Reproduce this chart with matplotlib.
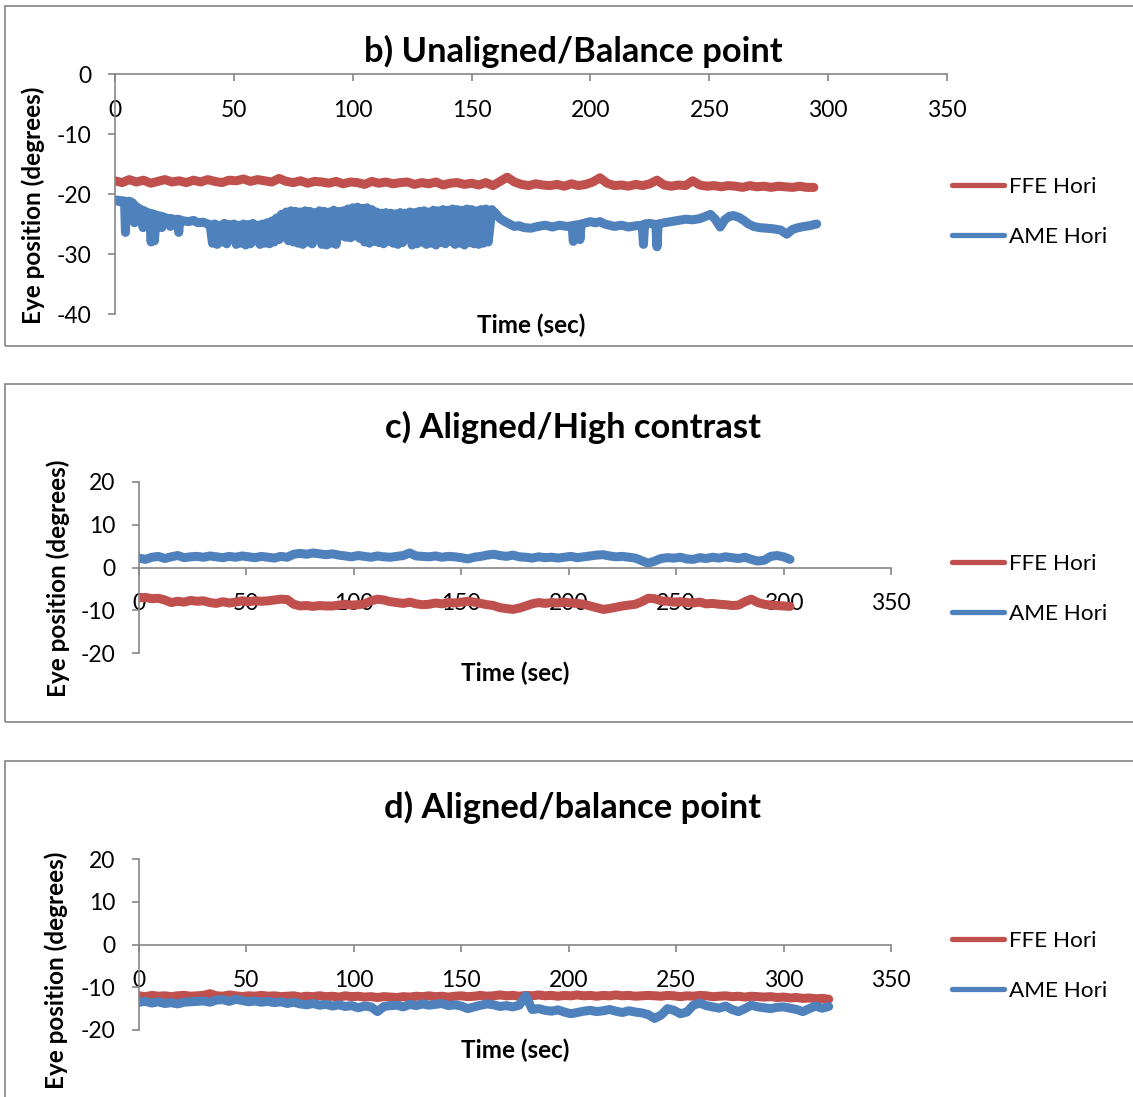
import numpy as np
import matplotlib
matplotlib.use("Agg")
import matplotlib.pyplot as plt
from matplotlib.lines import Line2D
from matplotlib.patches import Rectangle

plt.rcParams['font.family'] = ['Lato', 'DejaVu Sans']
plt.rcParams['axes.unicode_minus'] = False

# ---------------- data ----------------
series_labels = ["FFE Hori", "AME Hori"]
x_ticks = [0, 50, 100, 150, 200, 250, 300, 350]

# panel b) Unaligned/Balance point
ffe_b_t = np.arange(0, 295, 3)
ffe_b = [-17.8, -18.1, -17.6, -18.0, -17.7, -18.2, -17.9, -17.6, -18.0, -17.8, -18.1,
         -17.7, -18.0, -17.6, -17.9, -18.1, -17.7, -17.8, -17.5, -17.9, -17.6,
         -17.8, -18.0, -17.4, -17.9, -18.1, -17.8, -18.2, -17.9, -18.0, -18.2,
         -17.9, -18.3, -18.0, -18.1, -18.4, -17.9, -18.2, -18.0, -18.3, -18.1,
         -18.0, -18.4, -18.1, -18.3, -18.0, -18.5, -18.2, -18.1, -18.4, -18.2,
         -18.5, -18.1, -18.6, -17.9, -17.2, -18.0, -18.4, -18.6, -18.3, -18.5,
         -18.6, -18.4, -18.7, -18.3, -18.6, -18.4, -18.0, -17.3, -18.2, -18.6,
         -18.5, -18.7, -18.4, -18.6, -18.3, -17.7, -18.5, -18.7, -18.5, -18.6,
         -17.8, -18.5, -18.7, -18.6, -18.8, -18.6, -18.7, -18.9, -18.6, -18.8,
         -18.7, -18.9, -18.7, -18.8, -18.9, -18.7, -18.9, -18.9]

ame_b_head_t = [0, 1, 2, 3, 4.0, 4.4, 4.8, 6, 7.5, 8.2, 8.7, 9.5, 11, 11.8, 12.3, 13,
                14.5, 15.2, 15.9, 16.6, 17.3, 18, 19.2, 19.7, 20.2, 21.5, 22.8, 23.3,
                23.8, 25, 26.3, 26.8, 27.3, 29, 31, 33, 35, 37, 39]
ame_b_head = [-21.2, -21.0, -21.3, -21.1, -21.2, -26.4, -21.4, -21.2, -21.5, -24.8,
              -22.0, -22.3, -22.6, -25.6, -22.8, -23.0, -23.2, -28.0, -23.3, -27.8,
              -23.5, -23.6, -23.7, -25.6, -23.8, -24.0, -24.1, -25.4, -24.1, -24.3,
              -24.2, -26.4, -24.3, -24.5, -24.6, -24.4, -24.8, -24.7, -25.0]
# fast oscillation band (40-157 s): upper and lower turning points
ame_b_band_top_t = np.arange(40, 157, 2)
ame_b_band_top = [-25.1, -25.0, -25.2, -24.9, -25.1, -25.0, -25.2, -25.0, -25.1, -24.9,
                  -25.2, -25.0, -24.8,
                  -24.5, -24.0, -23.4, -23.0, -22.8,
                  -22.9, -23.0, -22.8, -22.9, -23.1, -22.8, -22.9, -23.0, -22.7, -22.9, -22.8,
                  -22.5, -22.3, -22.2, -22.4, -22.3, -22.6, -23.0, -23.2, -23.1, -23.2,
                  -23.3, -23.1, -23.2, -23.0, -23.1, -22.9, -22.8, -23.0, -22.7, -22.8,
                  -22.6, -22.7, -22.5, -22.6, -22.7, -22.5, -22.6, -22.8, -22.6, -22.5]
ame_b_band_bot_t = np.arange(41, 158, 2)
ame_b_band_bot = [-28.2, -28.4, -28.0, -28.3, -27.6, -28.4, -28.2, -28.5, -28.3, -27.8,
                  -28.4, -28.2, -28.3,
                  -28.0, -27.6, -27.2, -27.8, -28.0,
                  -28.2, -28.4, -28.0, -28.3, -25.0, -28.4, -28.5, -28.2, -28.4, -27.0, -27.2,
                  -27.3, -27.0, -27.4, -28.0, -28.2, -27.9, -28.1, -28.3, -27.9, -28.2,
                  -28.4, -28.1, -27.2, -28.5, -28.3, -28.0, -28.4, -28.2, -28.5, -28.1,
                  -28.3, -27.9, -28.4, -28.2, -28.5, -28.1, -28.3, -28.4, -28.2, -28.0]
ame_b_tail_t = [158.5, 160, 162, 164, 166, 168, 170, 172, 175, 178, 181, 184, 187, 190,
                192.3, 192.8, 193.3, 195.1, 195.6, 196.1, 198, 200, 202, 204, 206, 208, 210,
                213, 216, 219, 221.8, 222.3, 222.8, 225, 227.5, 228, 228.5, 231, 234, 237,
                240, 243, 246, 248, 250.5, 252.5, 254.6, 256.5, 258.5, 260.2, 262.5, 264.5,
                266.5, 268.6, 271, 274, 277, 280, 282.6, 285, 287.5, 290, 292, 294, 295.2]
ame_b_tail = [-22.6, -23.2, -24.1, -24.6, -25.0, -25.4, -25.3, -25.6, -25.7, -25.4,
              -25.2, -25.5, -25.2, -25.4, -25.3, -27.9, -25.2, -25.1, -27.6, -25.0,
              -24.8, -24.6, -24.8, -24.6, -25.0, -25.2, -25.4, -25.2, -25.5, -25.3,
              -25.2, -28.4, -25.0, -24.9, -25.1, -28.8, -25.0, -24.8, -24.6, -24.4,
              -24.2, -24.3, -24.1, -23.8, -23.4, -24.2, -25.5, -24.3, -23.7, -23.6,
              -23.9, -24.4, -25.0, -25.4, -25.6, -25.7, -25.8, -26.0, -26.7, -25.9,
              -25.6, -25.4, -25.3, -25.1, -25.0]

# panel c) Aligned/High contrast
c_t = np.arange(0, 304, 3)
ffe_c = [-7.1, -7.0, -7.3, -7.2, -7.6, -8.2, -7.9, -8.1, -7.7, -7.9,
         -7.8, -8.2, -8.4, -8.0, -8.3, -8.1, -7.8, -8.0, -7.8, -7.9,
         -7.8, -7.6, -7.4, -7.5, -8.6, -9.0, -8.9, -9.1, -8.9, -9.0,
         -9.0, -8.8, -8.6, -8.8, -8.7, -8.5, -7.8, -7.4, -7.6, -8.0,
         -8.2, -8.4, -8.1, -8.5, -8.7, -8.6, -8.3, -8.5, -8.2, -8.3,
         -8.1, -7.9, -8.1, -8.4, -8.7, -8.9, -9.4, -9.6, -9.8, -9.5,
         -9.0, -8.5, -8.2, -8.4, -8.2, -8.3, -8.1, -8.3, -8.4, -8.6,
         -9.0, -9.4, -9.8, -9.6, -9.3, -9.0, -8.8, -8.6, -8.0, -7.2,
         -7.3, -7.8, -7.9, -8.1, -8.0, -8.2, -8.3, -8.1, -8.5, -8.4,
         -8.6, -8.7, -8.9, -8.8, -8.0, -7.4, -8.2, -8.6, -8.8, -8.9,
         -9.0, -9.1]
ame_c = [2.2, 1.9, 2.4, 2.6, 2.1, 2.5, 2.8, 2.3, 2.5, 2.6,
         2.4, 2.7, 2.5, 2.3, 2.6, 2.4, 2.7, 2.5, 2.3, 2.6,
         2.4, 2.2, 2.6, 2.4, 3.1, 3.3, 3.1, 3.4, 3.2, 3.0,
         3.2, 2.9, 2.7, 2.5, 2.8, 2.6, 2.4, 2.7, 2.5, 2.4,
         2.6, 2.8, 3.4, 2.7, 2.6, 2.5, 2.7, 2.4, 2.6, 2.5,
         2.3, 2.0, 2.4, 2.6, 2.9, 3.1, 2.8, 2.6, 2.9, 2.5,
         2.4, 2.2, 2.5, 2.3, 2.4, 2.2, 2.4, 2.6, 2.3, 2.5,
         2.7, 2.9, 3.0, 2.7, 2.5, 2.6, 2.4, 2.2, 1.6, 1.0,
         1.5, 2.1, 2.3, 2.2, 2.4, 2.0, 1.9, 2.3, 2.1, 2.4,
         2.2, 2.5, 2.3, 2.1, 2.4, 1.9, 1.5, 1.7, 2.6, 2.8,
         2.5, 1.9]

# panel d) Aligned/balance point
d_t = np.arange(0, 322, 3)
ffe_d = [-12.0, -12.2, -11.9, -12.1, -12.0, -12.2, -12.0, -11.9, -12.1, -12.0,
         -11.9, -11.5, -12.0, -12.1, -11.8, -12.0, -12.2, -12.0, -12.1, -11.9,
         -12.1, -12.0, -12.2, -12.1, -12.0, -12.3, -12.1, -12.2, -12.0, -12.2,
         -12.1, -12.3, -12.0, -12.2, -12.1, -12.3, -12.2, -12.4, -12.2, -12.3,
         -12.4, -12.2, -12.3, -12.1, -12.2, -12.0, -12.2, -12.1, -12.3, -12.1,
         -12.0, -12.2, -12.1, -11.9, -12.1, -12.0, -11.8, -12.0, -11.9, -12.1,
         -11.9, -12.0, -11.8, -12.0, -11.9, -12.1, -11.9, -12.0, -11.8, -12.0,
         -11.9, -12.1, -11.9, -12.0, -11.8, -12.0, -11.9, -12.1, -12.0, -11.9,
         -12.0, -12.1, -11.9, -12.0, -12.2, -12.0, -12.1, -11.9, -12.0, -12.2,
         -12.1, -12.0, -12.2, -12.1, -12.3, -12.1, -12.2, -12.3, -12.2, -12.4,
         -12.3, -12.5, -12.4, -12.6, -12.5, -12.7, -12.6, -12.8]
ame_d = [-13.5, -13.3, -13.7, -13.4, -13.8, -13.6, -13.9, -13.5, -13.4, -13.3,
         -13.2, -13.5, -13.0, -12.9, -13.3, -12.8, -13.1, -13.4, -13.2, -13.5,
         -13.3, -13.6, -13.4, -13.8, -13.5, -13.9, -14.1, -13.8, -14.2, -14.0,
         -14.4, -14.1, -14.5, -14.3, -14.8, -14.4, -14.6, -15.7, -14.5, -14.3,
         -14.2, -14.6, -14.0, -14.3, -13.9, -14.2, -14.0, -13.8, -14.3, -14.1,
         -14.4, -15.0, -14.6, -14.2, -13.9, -14.1, -14.5, -14.3, -14.6, -14.2,
         -12.0, -15.2, -15.0, -15.4, -15.6, -15.3, -15.8, -16.2, -15.9, -15.6,
         -15.4, -15.7, -15.5, -15.2, -15.6, -15.9, -15.5, -15.8, -16.0, -16.4,
         -17.3, -16.5, -15.0, -15.4, -16.2, -15.8, -14.2, -13.7, -14.3, -14.6,
         -14.9, -14.4, -15.2, -15.7, -15.0, -14.2, -14.6, -14.8, -15.0, -14.7,
         -14.6, -14.9, -15.2, -15.7, -15.0, -14.4, -14.9, -14.5]

# ---------------- assemble the AME b) trace ----------------
band_t = np.ravel(np.column_stack([ame_b_band_top_t, ame_b_band_bot_t]))
band_v = np.ravel(np.column_stack([ame_b_band_top, ame_b_band_bot]))
ame_b_t = np.concatenate([ame_b_head_t, band_t, ame_b_tail_t])
ame_b = np.concatenate([ame_b_head, band_v, ame_b_tail])

# ---------------- figure ----------------
W, H = 1133, 1097
RED = '#C0504D'
BLUE = '#4F81BD'
GRAY = '#868686'
TICK_FS = 16.5
LEG_FS = 16.2
LAB_FS = 17.5
TITLE_FS = 24.8

fig = plt.figure(figsize=(W / 100, H / 100), dpi=100)


def fx(px):
    return px / W


def fy(py):
    return 1 - py / H


# chart-area frames
for top, bot in [(6, 346), (384, 722), (761, 1115)]:
    fig.patches.append(Rectangle((fx(5), fy(bot)), fx(1150 - 5), (bot - top) / H,
                                 transform=fig.transFigure, fill=False,
                                 ec='#8C8C8C', lw=1.3, zorder=0))

panels = [
    dict(title="b) Unaligned/Balance point", rect=(115, 74, 947, 314), ylim=(-40, 0),
         yticks=[0, -10, -20, -30, -40], ffe=(ffe_b_t, ffe_b), ame=(ame_b_t, ame_b),
         title_y=62, xlab_y=333, ylab=(33, 205), leg_y=212),
    dict(title="c) Aligned/High contrast", rect=(139, 482, 891, 653), ylim=(-20, 20),
         yticks=[20, 10, 0, -10, -20], ffe=(c_t, ffe_c), ame=(c_t, ame_c),
         title_y=438, xlab_y=681, ylab=(58, 578), leg_y=589),
    dict(title="d) Aligned/balance point", rect=(139, 859, 891, 1030), ylim=(-20, 20),
         yticks=[20, 10, 0, -10, -20], ffe=(d_t, ffe_d), ame=(d_t, ame_d),
         title_y=818, xlab_y=1058, ylab=(56, 970), leg_y=966),
]

for p in panels:
    x0, y0, x1, y1 = p['rect']
    ax = fig.add_axes([fx(x0), fy(y1), (x1 - x0) / W, (y1 - y0) / H])
    ax.set_facecolor('none')
    ax.set_xlim(0, 350)
    ax.set_ylim(*p['ylim'])
    ax.set_xticks(x_ticks)
    ax.set_yticks(p['yticks'])
    for s in ['top', 'right']:
        ax.spines[s].set_visible(False)
    ax.spines['bottom'].set_position(('data', 0))
    for s in ['bottom', 'left']:
        ax.spines[s].set_color(GRAY)
        ax.spines[s].set_linewidth(1.2)
    ax.tick_params(axis='x', direction='out', length=5, width=1.2, color=GRAY,
                   pad=13.5, labelsize=TICK_FS)
    ax.tick_params(axis='y', direction='out', length=5, width=1.2, color=GRAY,
                   pad=12, labelsize=TICK_FS)

    ax.plot(*p['ffe'], color=RED, lw=6.5, solid_joinstyle='round',
            solid_capstyle='round')
    ax.plot(*p['ame'], color=BLUE, lw=6.5, solid_joinstyle='round',
            solid_capstyle='round')

    ax.set_xlabel("Time (sec)", fontsize=LAB_FS, fontweight='bold', va='baseline')
    ax.xaxis.set_label_coords((x0 + x1) / 2 / W, fy(p['xlab_y']), transform=fig.transFigure)
    ax.set_ylabel("Eye position (degrees)", fontsize=LAB_FS, fontweight='bold',
                  va='center', ha='center')
    ax.yaxis.set_label_coords(fx(p['ylab'][0]), fy(p['ylab'][1]), transform=fig.transFigure)

    fig.text(fx(573), fy(p['title_y']), p['title'], ha='center', va='baseline',
             fontsize=TITLE_FS, fontweight='bold')

    handles = [Line2D([], [], color=RED, lw=3.8, solid_capstyle='round'),
               Line2D([], [], color=BLUE, lw=3.8, solid_capstyle='round')]
    ax.legend(handles, series_labels, loc='center left',
              bbox_to_anchor=(fx(952), fy(p['leg_y'])), bbox_transform=fig.transFigure,
              frameon=False, borderpad=0, borderaxespad=0, handlelength=2.3,
              handletextpad=0.25, labelspacing=1.32, fontsize=LEG_FS)

fig.savefig("out.png", dpi=100)
